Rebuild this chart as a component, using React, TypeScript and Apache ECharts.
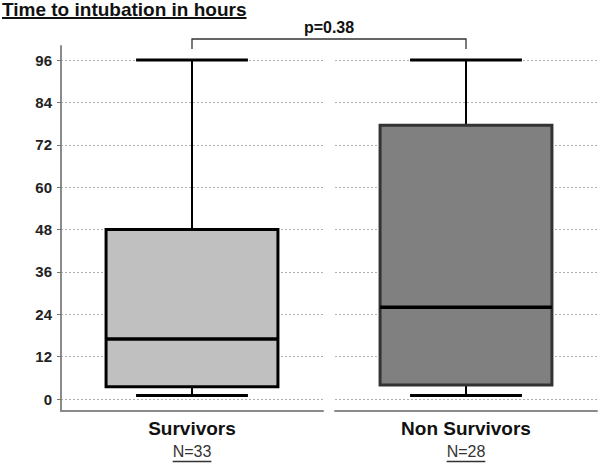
import React, { useEffect, useRef } from 'react';
import * as echarts from 'echarts';

// ---- data ----
const titleText = 'Time to intubation in hours';
const categories = ['Survivors', 'Non Survivors'];
const sampleSizes = ['N=33', 'N=28'];
// [min, Q1, median, Q3, max] in hours
const survivorsBox = [1, 3.5, 17, 48, 96];
const nonSurvivorsBox = [1, 4, 26, 77.5, 96];
const yMin = 0;
const yMax = 96;
const yStep = 12;
const pValueText = 'p=0.38';

const FONT = 'Arial, "Liberation Sans", sans-serif';

function measure(text: string, font: string): number {
  const c = document.createElement('canvas');
  const ctx = c.getContext('2d');
  if (!ctx) return text.length * 8;
  ctx.font = font;
  return ctx.measureText(text).width;
}

function makeRender(fill: string, stroke: string) {
  return (params: any, api: any) => {
    const x = api.value(0);
    const vMin = api.value(1);
    const vQ1 = api.value(2);
    const vMed = api.value(3);
    const vQ3 = api.value(4);
    const vMax = api.value(5);
    const [cx, yLo] = api.coord([x, vMin]);
    const yQ1 = api.coord([x, vQ1])[1];
    const yMed = api.coord([x, vMed])[1];
    const yQ3 = api.coord([x, vQ3])[1];
    const yHi = api.coord([x, vMax])[1];
    const band = api.size([1, 0])[0];
    const bw = band * 0.656;
    const cw = band * 0.427;
    return {
      type: 'group',
      children: [
        { type: 'line', shape: { x1: cx, y1: yQ3, x2: cx, y2: yHi }, style: { stroke: '#000', lineWidth: 2 } },
        { type: 'line', shape: { x1: cx, y1: yQ1, x2: cx, y2: yLo }, style: { stroke: '#000', lineWidth: 2 } },
        { type: 'line', shape: { x1: cx - cw / 2, y1: yHi, x2: cx + cw / 2, y2: yHi }, style: { stroke: '#000', lineWidth: 3 } },
        { type: 'line', shape: { x1: cx - cw / 2, y1: yLo, x2: cx + cw / 2, y2: yLo }, style: { stroke: '#000', lineWidth: 3 } },
        { type: 'rect', shape: { x: cx - bw / 2, y: yQ3, width: bw, height: yQ1 - yQ3 }, style: { fill, stroke, lineWidth: 3 } },
        { type: 'line', shape: { x1: cx - bw / 2, y1: yMed, x2: cx + bw / 2, y2: yMed }, style: { stroke: '#000', lineWidth: 3.5 } },
      ],
    };
  };
}

export default function App() {
  const ref = useRef<HTMLDivElement>(null);

  useEffect(() => {
    if (!ref.current) return;
    const chart = echarts.init(ref.current, undefined, { renderer: 'svg' });

    const valueAxis = (showLabels: boolean, gridIndex: number) => ({
      type: 'value',
      gridIndex,
      min: yMin,
      max: yMax,
      interval: yStep,
      axisLine: { show: false },
      axisTick: { show: showLabels, length: 4, lineStyle: { color: '#777', width: 1 } },
      axisLabel: {
        show: showLabels,
        margin: 9,
        fontFamily: FONT,
        fontWeight: 'bold',
        fontSize: 15,
        color: '#222',
      },
      splitLine: { show: true, lineStyle: { color: '#b0b0b0', width: 1, type: [2, 2] } },
    });

    const catAxis = (name: string, gridIndex: number) => ({
      type: 'category',
      gridIndex,
      data: [name],
      axisLine: { show: false },
      axisTick: { show: false },
      splitLine: { show: false },
      axisLabel: {
        show: true,
        margin: 20,
        fontFamily: FONT,
        fontWeight: 'bold',
        fontSize: 19,
        color: '#111',
      },
    });

    const frameX = (gridIndex: number) => ({
      type: 'value',
      gridIndex,
      min: 0,
      max: 1,
      position: 'bottom',
      axisLine: { show: true, onZero: false, lineStyle: { color: '#8a8a8a', width: 2 } },
      axisTick: { show: false },
      axisLabel: { show: false },
      splitLine: { show: false },
    });
    const frameY = (gridIndex: number, show: boolean) => ({
      type: 'value',
      gridIndex,
      min: 0,
      max: 1,
      axisLine: { show, onZero: false, lineStyle: { color: '#8a8a8a', width: 2 } },
      axisTick: { show: false },
      axisLabel: { show: false },
      splitLine: { show: false },
    });

    chart.setOption({
      animation: false,
      backgroundColor: '#fff',
      grid: [
        { left: 61, top: 60, width: 262, height: 339 },
        { left: 335, top: 60, width: 262, height: 339 },
        { left: 61, top: 46, width: 262, height: 365 },
        { left: 335, top: 46, width: 262, height: 365 },
      ],
      xAxis: [catAxis(categories[0], 0), catAxis(categories[1], 1), frameX(2), frameX(3)],
      yAxis: [valueAxis(true, 0), valueAxis(false, 1), frameY(2, true), frameY(3, false)],
      series: [
        {
          type: 'custom',
          xAxisIndex: 0,
          yAxisIndex: 0,
          renderItem: makeRender('#c0c0c0', '#000'),
          encode: { x: 0, y: [1, 2, 3, 4, 5] },
          data: [[0, ...survivorsBox]],
          z: 5,
        },
        {
          type: 'custom',
          xAxisIndex: 1,
          yAxisIndex: 1,
          renderItem: makeRender('#808080', '#333'),
          encode: { x: 0, y: [1, 2, 3, 4, 5] },
          data: [[0, ...nonSurvivorsBox]],
          z: 5,
        },
      ],
    });

    // annotations positioned from the axes
    const p0 = chart.convertToPixel({ xAxisIndex: 0, yAxisIndex: 0 }, [0, yMax]) as number[];
    const p1 = chart.convertToPixel({ xAxisIndex: 1, yAxisIndex: 1 }, [0, yMax]) as number[];
    const yTop = p0[1] - 21;
    const yEnd = p0[1] - 11;
    const base0 = chart.convertToPixel({ xAxisIndex: 0, yAxisIndex: 0 }, [0, yMin]) as number[];

    const titleFont = `bold 19px ${FONT}`;
    const titleW = measure(titleText, titleFont);
    const nFont = `16px ${FONT}`;

    const graphics: any[] = [
      {
        type: 'text',
        left: 2,
        top: 0,
        style: { text: titleText, font: titleFont, fill: '#111' },
      },
      {
        type: 'line',
        shape: { x1: 2, y1: 18, x2: 2 + titleW, y2: 18 },
        style: { stroke: '#111', lineWidth: 2 },
      },
      {
        type: 'polyline',
        shape: { points: [[p0[0], yEnd], [p0[0], yTop], [p1[0], yTop], [p1[0], yEnd]] },
        style: { stroke: '#333', lineWidth: 1.3, fill: null },
      },
      {
        type: 'text',
        x: (p0[0] + p1[0]) / 2,
        y: yTop - 4,
        style: {
          text: pValueText,
          font: `bold 16px ${FONT}`,
          fill: '#111',
          textAlign: 'center',
          textVerticalAlign: 'bottom',
        },
      },
    ];

    [p0[0], p1[0]].forEach((cx, i) => {
      const w = measure(sampleSizes[i], nFont);
      graphics.push({
        type: 'text',
        x: cx,
        y: base0[1] + 60,
        style: {
          text: sampleSizes[i],
          font: nFont,
          fill: '#333',
          textAlign: 'center',
          textVerticalAlign: 'bottom',
        },
      });
      graphics.push({
        type: 'line',
        shape: { x1: cx - w / 2, y1: base0[1] + 62.5, x2: cx + w / 2, y2: base0[1] + 62.5 },
        style: { stroke: '#333', lineWidth: 1.3 },
      });
    });

    chart.setOption({ graphic: graphics });

    return () => chart.dispose();
  }, []);

  return (
    <div
      ref={ref}
      style={{ position: 'fixed', left: 0, top: 0, width: 600, height: 464, background: '#fff' }}
    />
  );
}
